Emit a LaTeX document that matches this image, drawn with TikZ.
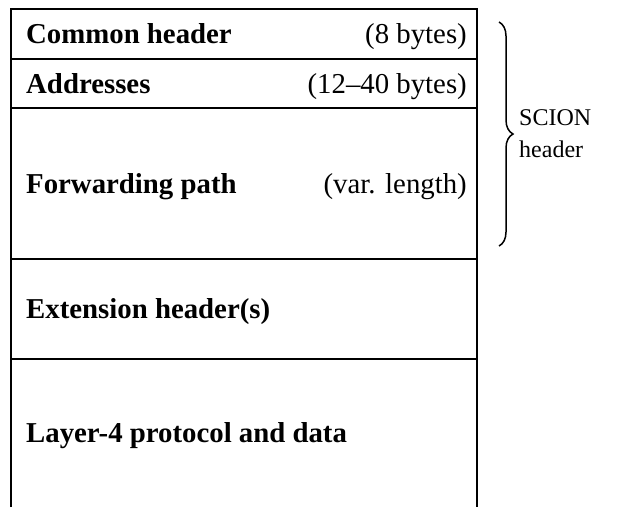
\documentclass[tikz,border=0pt]{standalone}
\usepackage{fontspec}
\setmainfont{Liberation Serif}
\usetikzlibrary{decorations.pathreplacing}
\tikzset{
  frame/.style={draw=black, line width=1.1pt},
  fieldname/.style={anchor=base west, inner sep=0pt, font=\fontsize{28.8}{32}\selectfont\bfseries},
  fieldsize/.style={anchor=base east, inner sep=0pt, font=\fontsize{28.8}{32}\selectfont},
  sidelabel/.style={anchor=base west, inner sep=0pt, font=\fontsize{24}{28}\selectfont},
  bracestyle/.style={draw=black, line width=1.5pt, decorate, decoration={brace, amplitude=14pt}}
}
\begin{document}
\begin{tikzpicture}[x=1pt,y=-1pt]
\useasboundingbox (0,0) rectangle (621,507);
% frame
\draw[frame] (11,507) -- (11,9) -- (477,9) -- (477,507);
\draw[frame] (11,59) -- (477,59);
\draw[frame] (11,108) -- (477,108);
\draw[frame] (11,259) -- (477,259);
\draw[frame] (11,359) -- (477,359);
% field names
\node[fieldname] (common) at (26,43.5) {Common header};
\node[fieldsize] (commonsz) at (467,43.5) {(8 bytes)};
\node[fieldname] (addr) at (26,93) {Addresses};
\node[fieldsize] (addrsz) at (467,93) {(12--40 bytes)};
\node[fieldname] (fwd) at (26,193) {Forwarding path};
\node[fieldsize] (fwdsz) at (467,193) {(var. length)};
\node[fieldname] (ext) at (26,318.5) {Extension header(s)};
\node[fieldname] (l4) at (26,442.5) {Layer-4 protocol and data};
% brace
\coordinate (btop) at (499,22);
\coordinate (bbot) at (499,246);
\draw[bracestyle] (btop) -- (bbot);
\node[sidelabel] (scion) at (519,125) {SCION};
\node[sidelabel] (hdr) at (519,157) {header};
\end{tikzpicture}
\end{document}
